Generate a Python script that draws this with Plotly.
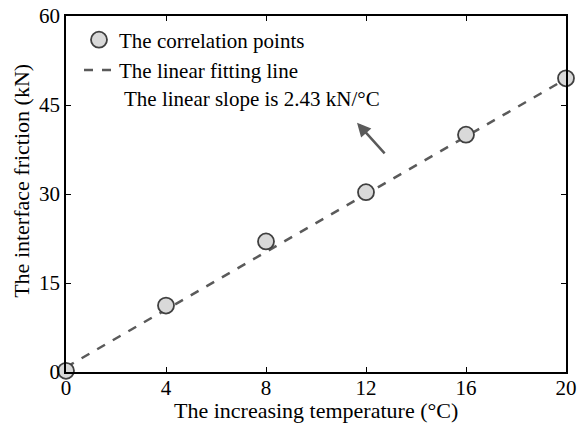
import plotly.graph_objects as go

temps = [0, 4, 8, 12, 16, 20]
friction = [0.2, 11.2, 22.0, 30.3, 40.0, 49.5]
fit_x = [0, 20]
fit_y = [0.8, 49.4]
x_ticks = [0, 4, 8, 12, 16, 20]
y_ticks = [0, 15, 30, 45, 60]

FONT = "Liberation Serif"

fig = go.Figure()
fig.add_trace(go.Scatter(
    x=fit_x, y=fit_y, mode="lines", name="The linear fitting line",
    line=dict(color="#5a5a5a", width=2.5, dash="dash"),
    cliponaxis=False, legendrank=2,
))
fig.add_trace(go.Scatter(
    x=temps, y=friction, mode="markers", name="The correlation points",
    marker=dict(size=16, color="#d9d9d9", line=dict(color="#404040", width=1.8)),
    cliponaxis=False, legendrank=1,
))

fig.add_annotation(
    x=0.112, y=0.768, xref="paper", yref="paper", xanchor="left", yanchor="middle",
    text="The linear slope is 2.43 kN/°C", showarrow=False,
    font=dict(family=FONT, size=21, color="black"),
)
fig.add_annotation(
    x=11.64, y=42.0, ax=12.8, ay=36.6, xref="x", yref="y", axref="x", ayref="y",
    text="", showarrow=True, arrowhead=2, arrowsize=1.1, arrowwidth=2.5, arrowcolor="#5a5a5a",
)
fig.add_annotation(
    x=0.5, y=-0.107, xref="paper", yref="paper", xanchor="center", yanchor="middle",
    text="The increasing temperature (°C)", showarrow=False,
    font=dict(family=FONT, size=22, color="black"),
)
fig.add_annotation(
    x=-0.088, y=0.537, xref="paper", yref="paper", xanchor="center", yanchor="middle",
    text="The interface friction (kN)", showarrow=False, textangle=-90,
    font=dict(family=FONT, size=22, color="black"),
)

axis_common = dict(
    showgrid=False, zeroline=False, showline=True, linecolor="black", linewidth=1.5,
    mirror="ticks", ticks="inside", ticklen=5, tickcolor="black", tickwidth=1,
    tickfont=dict(family=FONT, size=21, color="black"), automargin=False,
)
fig.update_xaxes(range=[0, 20], tickvals=x_ticks, ticklabelstandoff=-4, **axis_common)
fig.update_yaxes(range=[0, 60], tickvals=y_ticks, ticklabelstandoff=0, **axis_common)

fig.update_layout(
    width=578, height=424,
    margin=dict(l=66, r=12, t=16, b=52),
    paper_bgcolor="white", plot_bgcolor="white",
    font=dict(family=FONT, size=21, color="black"),
    legend=dict(x=0.026, y=0.99, xanchor="left", yanchor="top", bgcolor="rgba(0,0,0,0)",
                font=dict(family=FONT, size=21, color="black"), tracegroupgap=0, itemwidth=30),
    showlegend=True,
)
fig.write_html("out.html")
